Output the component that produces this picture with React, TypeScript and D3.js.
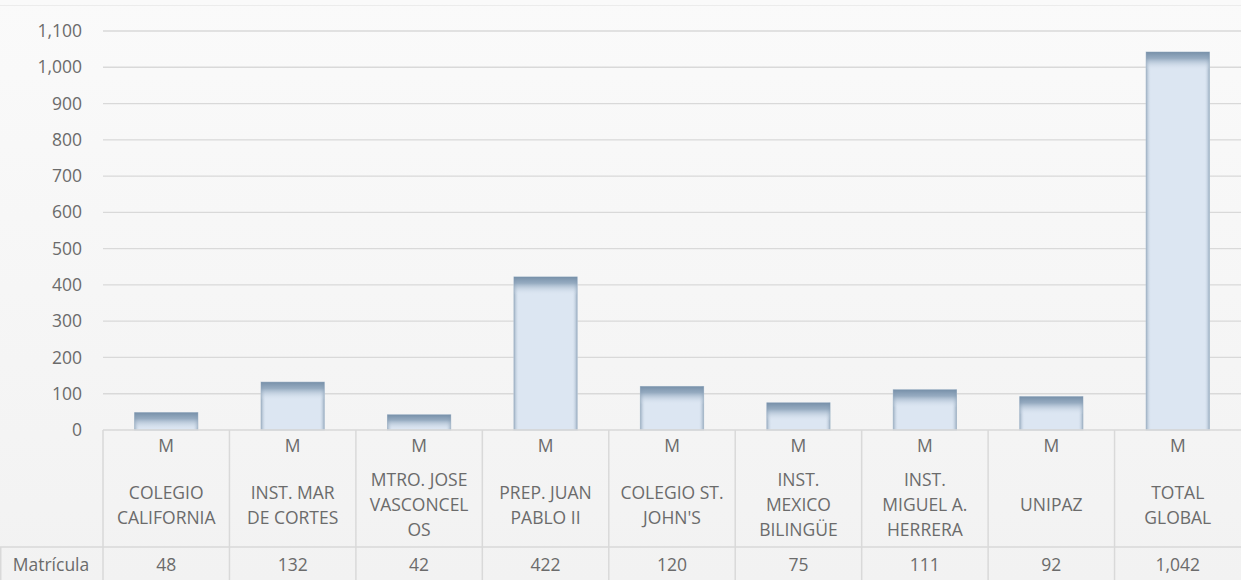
import React from 'react';
import * as d3 from 'd3';

// chart data
const schools = ['COLEGIO CALIFORNIA', 'INST. MAR DE CORTES', 'MTRO. JOSE VASCONCELOS', 'PREP. JUAN PABLO II', "COLEGIO ST. JOHN'S", 'INST. MEXICO BILINGÜE', 'INST. MIGUEL A. HERRERA', 'UNIPAZ', 'TOTAL GLOBAL'];
const schoolLines = [
  ['COLEGIO', 'CALIFORNIA'],
  ['INST. MAR', 'DE CORTES'],
  ['MTRO. JOSE', 'VASCONCEL', 'OS'],
  ['PREP. JUAN', 'PABLO II'],
  ['COLEGIO ST.', "JOHN'S"],
  ['INST.', 'MEXICO', 'BILINGÜE'],
  ['INST.', 'MIGUEL A.', 'HERRERA'],
  ['UNIPAZ'],
  ['TOTAL', 'GLOBAL'],
];
const subLabel = 'M';
const seriesName = 'Matrícula';
const matricula = [48, 132, 42, 422, 120, 75, 111, 92, 1042];
const yTicks = [0, 100, 200, 300, 400, 500, 600, 700, 800, 900, 1000, 1100];

const W = 1241;
const H = 580;
const textColor = '#6b6b6b';
const gridColor = '#d9d9d9';
const font = '"Open Sans", Lato, sans-serif';
const fs = 17.5;

export default function App() {
  const x = d3.scaleBand<string>().domain(schools).range([103, W]).paddingInner(0).paddingOuter(0);
  const y = d3.scaleLinear().domain([0, 1100]).range([430, 31]);
  const fmt = d3.format(',');
  const bw = x.bandwidth() * 0.5;

  const tableTop = y(0);
  const rowSplit = 547;

  return (
    <svg width={W} height={H} style={{ position: 'absolute', left: 0, top: 0 }} fontFamily={font}>
      <defs>
        <linearGradient id="bg" x1="0" y1="0" x2="0" y2="1">
          <stop offset="0" stopColor="#fafafa" />
          <stop offset="1" stopColor="#f2f2f2" />
        </linearGradient>
        <linearGradient id="barTop" x1="0" y1="0" x2="0" y2="1">
          <stop offset="0" stopColor="#7790a9" stopOpacity={1} />
          <stop offset="0.35" stopColor="#8aa1b8" stopOpacity={0.85} />
          <stop offset="1" stopColor="#dce6f2" stopOpacity={0} />
        </linearGradient>
        <linearGradient id="barSide" x1="0" y1="0" x2="1" y2="0">
          <stop offset="0" stopColor="#95a9bd" stopOpacity={0.9} />
          <stop offset="0.08" stopColor="#dce6f2" stopOpacity={0} />
          <stop offset="0.92" stopColor="#dce6f2" stopOpacity={0} />
          <stop offset="1" stopColor="#95a9bd" stopOpacity={0.9} />
        </linearGradient>
      </defs>
      <rect x={0} y={0} width={W} height={H} fill="url(#bg)" />
      <line x1={0} x2={W} y1={5.5} y2={5.5} stroke="#ececec" />

      {/* gridlines + y labels */}
      {yTicks.map((t) => (
        <g key={t}>
          {t > 0 && <line x1={103} x2={W} y1={y(t)} y2={y(t)} stroke={gridColor} strokeWidth={1.3} />}
          <text x={82} y={y(t)} dy="0.35em" textAnchor="end" fontSize={fs} fill={textColor}>
            {fmt(t)}
          </text>
        </g>
      ))}

      {/* bars */}
      {schools.map((s, i) => {
        const bx = (x(s) as number) + (x.bandwidth() - bw) / 2;
        const by = y(matricula[i]);
        const bh = y(0) - by;
        const topH = Math.min(18, bh);
        return (
          <g key={s}>
            <rect x={bx} y={by} width={bw} height={bh} fill="#dce6f2" stroke="#b9c7d5" strokeWidth={1} />
            <rect x={bx} y={by} width={bw} height={bh} fill="url(#barSide)" />
            <rect x={bx} y={by} width={bw} height={topH} fill="url(#barTop)" />
          </g>
        );
      })}

      {/* data table */}
      <line x1={103} x2={W} y1={tableTop} y2={tableTop} stroke={gridColor} strokeWidth={1.5} />
      <line x1={0} x2={W} y1={rowSplit} y2={rowSplit} stroke={gridColor} strokeWidth={1.5} />
      <line x1={0.75} x2={0.75} y1={rowSplit} y2={H} stroke={gridColor} strokeWidth={1.5} />
      {schools.map((s) => (
        <line key={s} x1={x(s) as number} x2={x(s) as number} y1={tableTop} y2={H} stroke={gridColor} strokeWidth={1.5} />
      ))}
      <text x={51} y={565} dy="0.35em" textAnchor="middle" fontSize={fs} fill={textColor}>
        {seriesName}
      </text>
      {schools.map((s, i) => {
        const cx = (x(s) as number) + x.bandwidth() / 2;
        const lines = schoolLines[i];
        const y0 = 505 - ((lines.length - 1) * 25) / 2;
        return (
          <g key={s} fill={textColor} fontSize={fs} textAnchor="middle">
            <text x={cx} y={446} dy="0.35em">{subLabel}</text>
            {lines.map((l, j) => (
              <text key={j} x={cx} y={y0 + j * 25} dy="0.35em">{l}</text>
            ))}
            <text x={cx} y={565} dy="0.35em">{fmt(matricula[i])}</text>
          </g>
        );
      })}
    </svg>
  );
}
